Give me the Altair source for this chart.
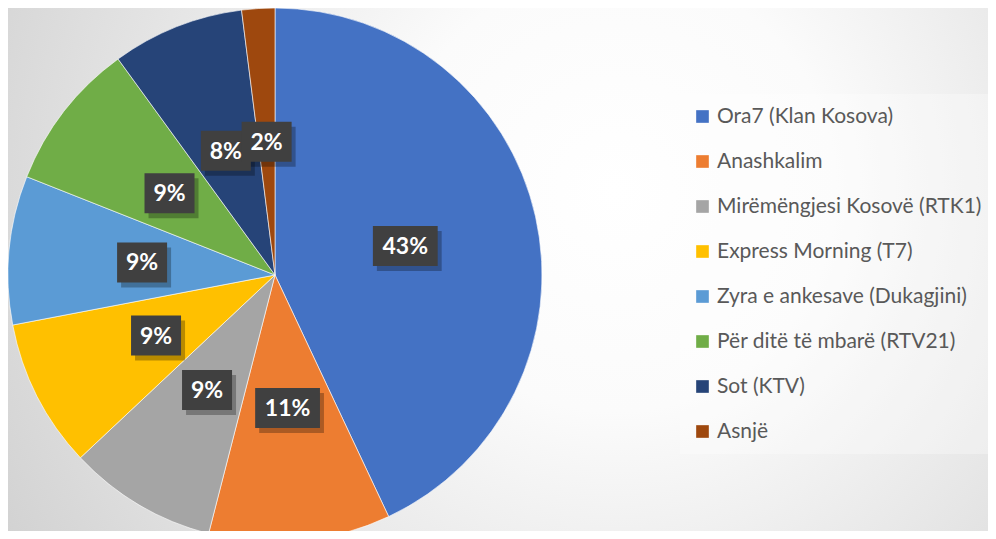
import altair as alt
import pandas as pd

categories = [
    "Ora7 (Klan Kosova)",
    "Anashkalim",
    "Mirëmëngjesi Kosovë (RTK1)",
    "Express Morning (T7)",
    "Zyra e ankesave (Dukagjini)",
    "Për ditë të mbarë (RTV21)",
    "Sot (KTV)",
    "Asnjë",
]
values = [43, 11, 9, 9, 9, 9, 8, 2]
palette = ["#4472C4", "#ED7D31", "#A5A5A5", "#FFC000", "#5B9BD5", "#70AD47", "#264478", "#9E480E"]

df = pd.DataFrame({"cat": categories, "value": values, "ord": list(range(len(categories)))})

W, H = 980, 523
CX, CY, R = 267, 267, 267

bg = alt.Chart(pd.DataFrame({"a": [0]})).mark_rect(
    fill={
        "gradient": "radial",
        "x1": 0.62, "y1": 0.42, "r1": 0.0,
        "x2": 0.62, "y2": 0.42, "r2": 0.75,
        "stops": [
            {"offset": 0.0, "color": "#ffffff"},
            {"offset": 0.3, "color": "#fbfbfb"},
            {"offset": 1.0, "color": "#cfcfcf"},
        ],
    }
).encode(x=alt.value(0), x2=alt.value(W), y=alt.value(0), y2=alt.value(H))

base = alt.Chart(df)

pie = base.mark_arc(outerRadius=R, stroke="#ffffff", strokeWidth=0.6).encode(
    theta=alt.Theta("value:Q", stack=True),
    order=alt.Order("ord:Q"),
    color=alt.Color(
        "cat:N",
        sort=categories,
        scale=alt.Scale(domain=categories, range=palette),
        legend=alt.Legend(
            title=None,
            orient="none",
            legendX=672,
            legendY=86,
            symbolType="square",
            symbolSize=160,
            symbolStrokeWidth=0,
            labelFont="Lato",
            labelFontSize=21,
            labelColor="#595959",
            labelOffset=4,
            rowPadding=23,
            padding=12,
            fillColor="rgba(255,255,255,0.3)",
            labelLimit=400,
        ),
    ),
    x=alt.value(CX),
    y=alt.value(CY),
)

lab = base.transform_window(
    cum="sum(value)", sort=[alt.SortField("ord")], frame=[None, 0]
).transform_joinaggregate(
    total="sum(value)"
).transform_calculate(
    mid="(datum.cum - datum.value/2) / datum.total * 2 * PI",
    lx="0.5 * sin(datum.mid)",
    ly="0.5 * cos(datum.mid)",
    txt="format(datum.value / datum.total, '.0%')",
).transform_calculate(
    shp="length(datum.txt) > 2 ? 'M-1.62,-1L1.62,-1L1.62,1L-1.62,1Z' : 'M-1.25,-1L1.25,-1L1.25,1L-1.25,1Z'"
)

xs = alt.X("lx:Q", scale=alt.Scale(domain=[-1, 1], range=[CX - R, CX + R]), axis=None)
ys = alt.Y("ly:Q", scale=alt.Scale(domain=[-1, 1], range=[CY + R, CY - R]), axis=None)

shadow = lab.mark_point(filled=True, size=1600, fill="#000000", opacity=0.28, strokeWidth=0,
                        xOffset=4, yOffset=5).encode(
    x=xs, y=ys, shape=alt.Shape("shp:N", scale=None)
)
box = lab.mark_point(filled=True, size=1600, fill="#404040", opacity=1, strokeWidth=0).encode(
    x=xs, y=ys, shape=alt.Shape("shp:N", scale=None)
)
text = lab.mark_text(font="Lato", fontSize=23, fontWeight="bold", color="#ffffff", dy=1).encode(
    x=xs, y=ys, text="txt:N"
)

chart = alt.layer(bg, pie, shadow, box, text).properties(
    width=W, height=H, padding=0,
    autosize=alt.AutoSizeParams(type="none"),
).configure_view(stroke=None).configure(background="#dcdcdc")

chart.save("out.html", embed_options={"renderer": "svg", "actions": False})
